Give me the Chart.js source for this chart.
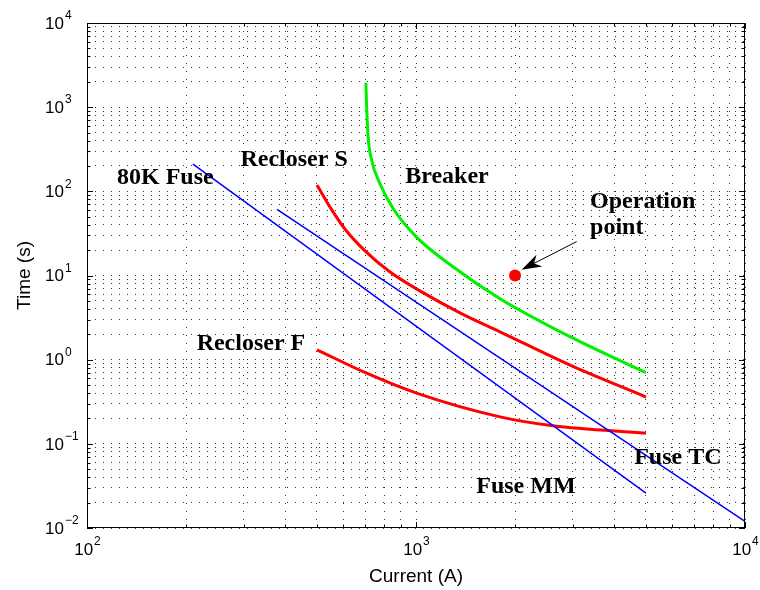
<!DOCTYPE html>
<html>
<head>
<meta charset="utf-8">
<script src="https://cdn.jsdelivr.net/npm/chart.js@4.4.0/dist/chart.umd.min.js"></script>
<style>
html, body { margin: 0; padding: 0; background: #fff; }
#wrap { width: 760px; height: 590px; }
</style>
</head>
<body>
<div id="wrap"><canvas id="chartTcc" width="760" height="590"></canvas></div>
<script>
// Time-current curves, values (current in A, time in s)
const fuseMmCurrent = [210, 5000];
const fuseMmTime = [210, 0.026];

const fuseTcCurrent = [378, 10000];
const fuseTcTime = [61, 0.012];

const recloserSCurrent = [500, 548, 608, 700, 834, 1028, 1360, 1800, 3000, 5000];
const recloserSTime = [119, 65, 35.7, 19.6, 11.0, 6.56, 3.60, 2.14, 0.83, 0.36];

const recloserFCurrent = [500, 708, 1004, 1800, 2606, 5000];
const recloserFTime = [1.31, 0.69, 0.40, 0.209, 0.164, 0.134];

const breakerCurrent = [704, 708, 715, 733, 778, 853, 1000, 1268, 1800, 3000, 5000];
const breakerTime = [1950, 1000, 450, 236, 122, 62, 29, 13.5, 5.3, 1.8, 0.70];

const opCurrent = [2000];
const opTime = [10];

// axis decades and minor grid multipliers
const xDecades = [100, 1000, 10000];
const yDecades = [0.01, 0.1, 1, 10, 100, 1000, 10000];
const minorSteps = [2, 3, 4, 5, 6, 7, 8, 9];

// text labels placed in data coordinates
const labelText = ['80K Fuse', 'Recloser S', 'Breaker', 'Recloser F', 'Fuse TC', 'Fuse MM'];
const labelCurrent = [173, 426, 1242, 315, 6250, 2158];
const labelTime = [144, 236, 148, 1.54, 0.068, 0.0308];

const opLabelLines = ['Operation', 'point'];
const opLabelAt = [3381, 74.8];
const arrowFrom = [3079, 25.3];
const arrowTo = [2094, 11.7];

function gridValues(decades) {
    const out = [];
    decades.forEach((d, i) => {
        out.push(d);
        if (i < decades.length - 1) minorSteps.forEach(m => out.push(d * m));
    });
    return out;
}

function toPoints(xs, ys) {
    return xs.map((v, i) => ({ x: v, y: ys[i] }));
}

function isDecade(v) {
    const l = Math.log10(v);
    return Math.abs(l - Math.round(l)) < 1e-9;
}

const sansFont = '"Liberation Sans", Arial, sans-serif';
const serifFont = '"Liberation Serif", "Times New Roman", serif';

function drawPower(ctx, exp, x, y, align) {
    const base = '10';
    const sup = exp < 0 ? '\u2212' + Math.abs(exp) : String(exp);
    ctx.font = '17px ' + sansFont;
    const wb = ctx.measureText(base).width;
    ctx.font = '12px ' + sansFont;
    const ws = ctx.measureText(sup).width;
    let x0;
    if (align === 'center') x0 = x - (wb + ws) / 2;
    else x0 = x - wb; // "10" ends at x, exponent after it
    ctx.textAlign = 'left';
    ctx.textBaseline = 'middle';
    ctx.font = '17px ' + sansFont;
    ctx.fillText(base, x0, y);
    ctx.font = '12px ' + sansFont;
    ctx.fillText(sup, x0 + wb + 1, y - 8);
}

const overlay = {
    id: 'overlay',
    afterDraw(chart) {
        const { ctx, chartArea: a, scales: { x, y } } = chart;
        ctx.save();
        ctx.fillStyle = '#000';
        ctx.strokeStyle = '#000';
        ctx.lineWidth = 1;

        // box
        ctx.strokeRect(Math.round(a.left) + 0.5, Math.round(a.top) + 0.5,
            Math.round(a.right - a.left) - 1, Math.round(a.bottom - a.top) - 1);

        // inward tick marks on all four sides
        ctx.beginPath();
        x.ticks.forEach(t => {
            const px = Math.round(x.getPixelForValue(t.value)) + 0.5;
            const len = isDecade(t.value) ? 6 : 3.5;
            ctx.moveTo(px, a.bottom); ctx.lineTo(px, a.bottom - len);
            ctx.moveTo(px, a.top); ctx.lineTo(px, a.top + len);
        });
        y.ticks.forEach(t => {
            const py = Math.round(y.getPixelForValue(t.value)) + 0.5;
            const len = isDecade(t.value) ? 6 : 3.5;
            ctx.moveTo(a.left, py); ctx.lineTo(a.left + len, py);
            ctx.moveTo(a.right, py); ctx.lineTo(a.right - len, py);
        });
        ctx.stroke();

        // tick labels
        xDecades.forEach(v => {
            drawPower(ctx, Math.round(Math.log10(v)), x.getPixelForValue(v), a.bottom + 22, 'center');
        });
        yDecades.forEach(v => {
            drawPower(ctx, Math.round(Math.log10(v)), a.left - 23, y.getPixelForValue(v) + 1, 'left');
        });

        // axis titles
        ctx.font = '19px ' + sansFont;
        ctx.textAlign = 'center';
        ctx.textBaseline = 'middle';
        ctx.fillText('Current (A)', (a.left + a.right) / 2, a.bottom + 49);
        ctx.save();
        ctx.translate(25, (a.top + a.bottom) / 2);
        ctx.rotate(-Math.PI / 2);
        ctx.fillText('Time (s)', 0, 0);
        ctx.restore();

        // curve labels
        ctx.font = 'bold 24px ' + serifFont;
        labelText.forEach((txt, i) => {
            ctx.fillText(txt, x.getPixelForValue(labelCurrent[i]), y.getPixelForValue(labelTime[i]));
        });
        ctx.textAlign = 'left';
        const ox = x.getPixelForValue(opLabelAt[0]);
        const oy = y.getPixelForValue(opLabelAt[1]);
        opLabelLines.forEach((txt, i) => ctx.fillText(txt, ox, oy + i * 26));

        // arrow to the operation point
        const x1 = x.getPixelForValue(arrowFrom[0]), y1 = y.getPixelForValue(arrowFrom[1]);
        const x2 = x.getPixelForValue(arrowTo[0]), y2 = y.getPixelForValue(arrowTo[1]);
        const ang = Math.atan2(y1 - y2, x1 - x2);
        const L = 20, W = 6.5;
        const ux = Math.cos(ang), uy = Math.sin(ang);
        ctx.beginPath();
        ctx.moveTo(x1, y1);
        ctx.lineTo(x2 + ux * L * 0.7, y2 + uy * L * 0.7);
        ctx.stroke();
        ctx.beginPath();
        ctx.moveTo(x2, y2);
        ctx.lineTo(x2 + ux * L - uy * W, y2 + uy * L + ux * W);
        ctx.lineTo(x2 + ux * L * 0.7, y2 + uy * L * 0.7);
        ctx.lineTo(x2 + ux * L + uy * W, y2 + uy * L - ux * W);
        ctx.closePath();
        ctx.fill();

        ctx.restore();
    }
};

const gridStyle = {
    display: true,
    color: 'rgba(0, 0, 0, 0.8)',
    lineWidth: 1,
    drawTicks: false
};

new Chart(document.getElementById('chartTcc'), {
    type: 'line',
    data: {
        datasets: [
            {
                label: 'Fuse MM',
                data: toPoints(fuseMmCurrent, fuseMmTime),
                borderColor: '#0000ff',
                borderWidth: 1.5,
                pointRadius: 0
            },
            {
                label: 'Fuse TC',
                data: toPoints(fuseTcCurrent, fuseTcTime),
                borderColor: '#0000ff',
                borderWidth: 1.5,
                pointRadius: 0
            },
            {
                label: 'Recloser S',
                data: toPoints(recloserSCurrent, recloserSTime),
                borderColor: '#ff0000',
                borderWidth: 3,
                pointRadius: 0,
                cubicInterpolationMode: 'monotone'
            },
            {
                label: 'Recloser F',
                data: toPoints(recloserFCurrent, recloserFTime),
                borderColor: '#ff0000',
                borderWidth: 3,
                pointRadius: 0,
                cubicInterpolationMode: 'monotone'
            },
            {
                label: 'Breaker',
                data: toPoints(breakerCurrent, breakerTime),
                borderColor: '#00f000',
                borderWidth: 3,
                pointRadius: 0,
                cubicInterpolationMode: 'monotone'
            },
            {
                label: 'Operation point',
                data: toPoints(opCurrent, opTime),
                showLine: false,
                pointRadius: 6,
                pointBackgroundColor: '#ff0000',
                pointBorderColor: '#ff0000',
                pointBorderWidth: 0
            }
        ]
    },
    options: {
        responsive: false,
        animation: false,
        layout: { padding: { left: 87, top: 23, right: 15, bottom: 62 } },
        plugins: {
            legend: { display: false },
            tooltip: { enabled: false }
        },
        scales: {
            x: {
                type: 'logarithmic',
                min: 100,
                max: 10000,
                afterBuildTicks: axis => { axis.ticks = gridValues(xDecades).map(v => ({ value: v })); },
                ticks: { display: false },
                grid: gridStyle,
                border: { display: false, dash: [1, 7] }
            },
            y: {
                type: 'logarithmic',
                min: 0.01,
                max: 10000,
                afterBuildTicks: axis => { axis.ticks = gridValues(yDecades).map(v => ({ value: v })); },
                ticks: { display: false },
                grid: gridStyle,
                border: { display: false, dash: [1, 7] }
            }
        }
    },
    plugins: [overlay]
});
</script>
</body>
</html>
